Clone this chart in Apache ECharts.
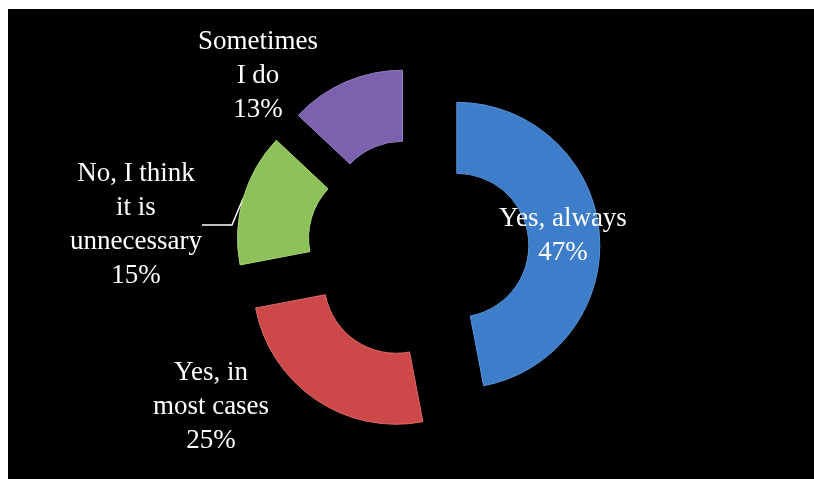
<!DOCTYPE html>
<html>
<head>
<meta charset="utf-8">
<script src="https://cdn.jsdelivr.net/npm/echarts@6/dist/echarts.min.js"></script>
<style>
  html, body { margin: 0; padding: 0; background: #ffffff; }
  #chart { position: absolute; left: 8px; top: 9px; width: 806px; height: 470px; background: #000000; }
</style>
</head>
<body>
<div id="chart"></div>
<script>
// answers and their shares (%)
const categories = ['Yes, always', 'Yes, in\nmost cases', 'No, I think\nit is\nunnecessary', 'Sometimes\nI do'];
const values = [47, 25, 15, 13];
const colors = ['#3d7dc9', '#cd4848', '#8fc15a', '#7b61ae'];
const edgeColors = ['#5a95d8', '#e06a68', '#a8d47a', '#9580c2'];

// where each label sits (centre of the text block)
const labelSpots = [[555, 227], [203, 398], [128, 216], [250, 67]];

const pieCenter = [410, 240];
const explode = 39;

const chart = echarts.init(document.getElementById('chart'));

// every slice is pulled out along its own middle angle
const total = values.reduce((a, b) => a + b, 0);
let acc = 0;
const mids = values.map(v => {
    const m = (acc + v / 2) / total * Math.PI * 2;
    acc += v;
    return m;
});

const series = values.map((v, i) => ({
    type: 'pie',
    center: [pieCenter[0] + explode * Math.sin(mids[i]), pieCenter[1] - explode * Math.cos(mids[i])],
    radius: [72, 143],
    startAngle: 90,
    clockwise: true,
    avoidLabelOverlap: false,
    emphasis: { disabled: true },
    label: {
        color: '#ffffff',
        fontFamily: '"Liberation Serif", "Times New Roman", serif',
        fontSize: 27,
        lineHeight: 34,
        align: 'center',
        formatter: p => p.name + '\n' + p.value + '%'
    },
    labelLine: { lineStyle: { color: '#ffffff', width: 1.5 } },
    labelLayout: p => p.dataIndex === i ? {
        x: labelSpots[i][0],
        y: labelSpots[i][1],
        align: 'center',
        verticalAlign: 'middle'
    } : {},
    data: values.map((w, j) => ({
        name: categories[j],
        value: w,
        itemStyle: j === i
            ? { color: colors[j], borderColor: edgeColors[j], borderWidth: 1 }
            : { color: 'rgba(0,0,0,0)', borderWidth: 0 },
        label: { show: j === i },
        labelLine: { show: j === i && j === 2 }
    }))
}));

chart.setOption({
    animation: false,
    backgroundColor: '#000000',
    series: series
});
</script>
</body>
</html>
